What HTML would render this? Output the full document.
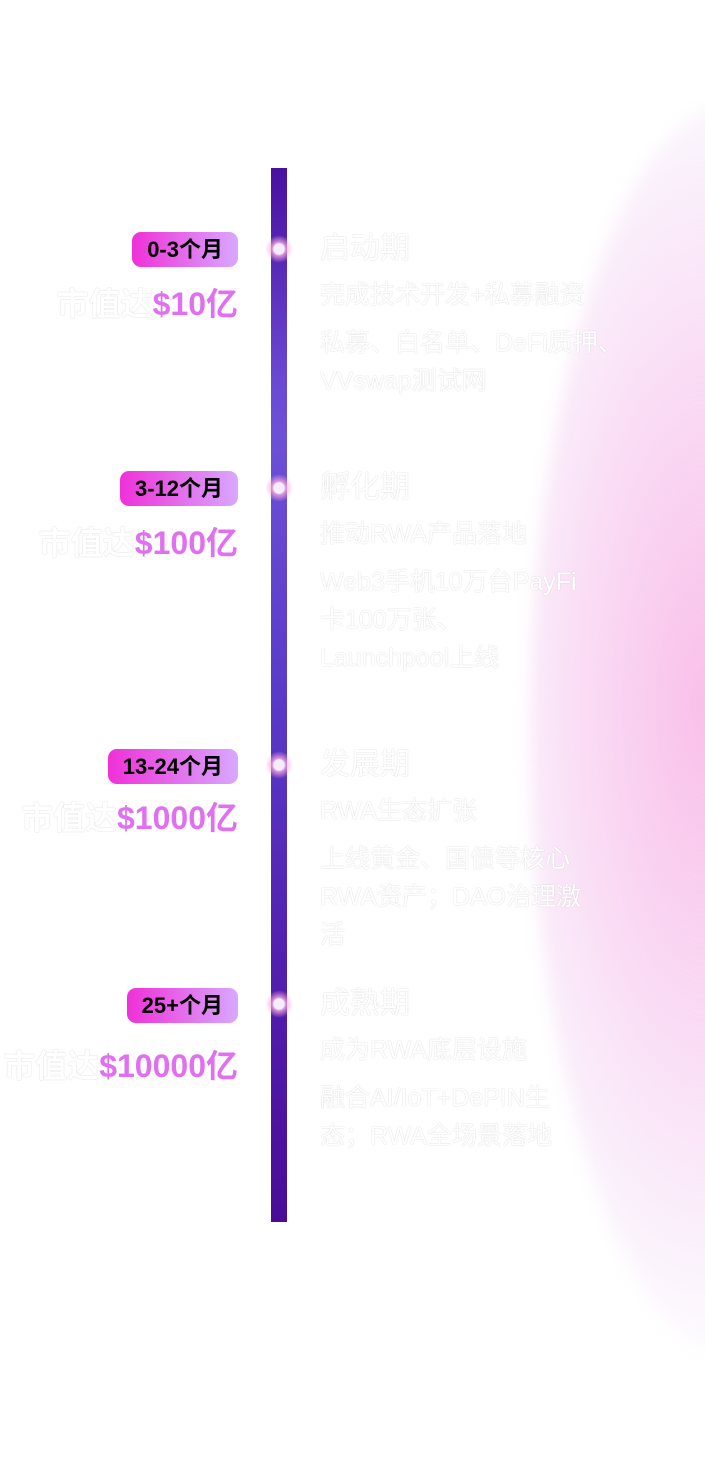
<!DOCTYPE html>
<html><head><meta charset="utf-8"><style>
*{margin:0;padding:0;box-sizing:border-box}
body{width:705px;height:1463px;background:#fff;position:relative;overflow:hidden;font-family:"Liberation Sans","Noto Sans CJK SC",sans-serif}
.glow{position:absolute;left:530px;top:100px;width:420px;height:1260px;border-radius:50%;background:radial-gradient(ellipse at 42% 48%,rgba(248,175,228,0.8) 0%,rgba(245,190,236,0.55) 35%,rgba(240,212,245,0.3) 60%,rgba(255,255,255,0) 75%);filter:blur(8px)}
.bar{position:absolute;left:271px;top:168px;width:16px;height:1054px;background:linear-gradient(#4a10a0 0%,#6a48d4 20%,#6d50d8 25%,#5a3ac8 50%,#5220b0 75%,#4a0c98 100%)}
.dot{position:absolute;left:265px;width:28px;height:28px;border-radius:50%;background:radial-gradient(circle,#f4eefc 0 26%,rgba(250,170,220,0.8) 34%,rgba(250,190,230,0) 70%)}
.badge{position:absolute;right:467px;height:35px;border-radius:9px;background:linear-gradient(90deg,#f030d8,#d8a8ff);font-weight:bold;font-size:22px;line-height:35px;padding:0 15px;color:#000}
.val{position:absolute;right:467px;font-size:32px;font-weight:bold;color:#fff;text-shadow:0 0 1px #bbb;white-space:nowrap}
.val span{color:#e070f0;text-shadow:none}
.t{position:absolute;left:320px;color:#fff;text-shadow:0 0 1px #bbb;font-size:25px;line-height:38px;white-space:nowrap}
.t b{font-size:30px;display:block;margin-bottom:8px;font-weight:normal}
.t div{margin-top:10px}
</style></head><body>
<div class="glow"></div>
<div class="bar"></div>
<div class="dot" style="top:235px"></div>
<div class="dot" style="top:474px"></div>
<div class="dot" style="top:751px"></div>
<div class="dot" style="top:990px"></div>

<div class="badge" style="top:232px">0-3个月</div>
<div class="val" style="top:279px">市值达<span>$10亿</span></div>
<div class="badge" style="top:471px">3-12个月</div>
<div class="val" style="top:518px">市值达<span>$100亿</span></div>
<div class="badge" style="top:749px">13-24个月</div>
<div class="val" style="top:793px">市值达<span>$1000亿</span></div>
<div class="badge" style="top:988px">25+个月</div>
<div class="val" style="top:1041px">市值达<span>$10000亿</span></div>

<div class="t" style="top:230px"><b>启动期</b>完成技术开发+私募融资<div>私募、白名单、DeFi质押、<br>VVswap测试网</div></div>
<div class="t" style="top:469px"><b>孵化期</b>推动RWA产品落地<div>Web3手机10万台PayFi<br>卡100万张、<br>Launchpool上线</div></div>
<div class="t" style="top:746px"><b>发展期</b>RWA生态扩张<div>上线黄金、国债等核心<br>RWA资产；DAO治理激<br>活</div></div>
<div class="t" style="top:985px"><b>成熟期</b>成为RWA底层设施<div>融合AI/IoT+DePIN生<br>态；RWA全场景落地</div></div>
</body></html>
